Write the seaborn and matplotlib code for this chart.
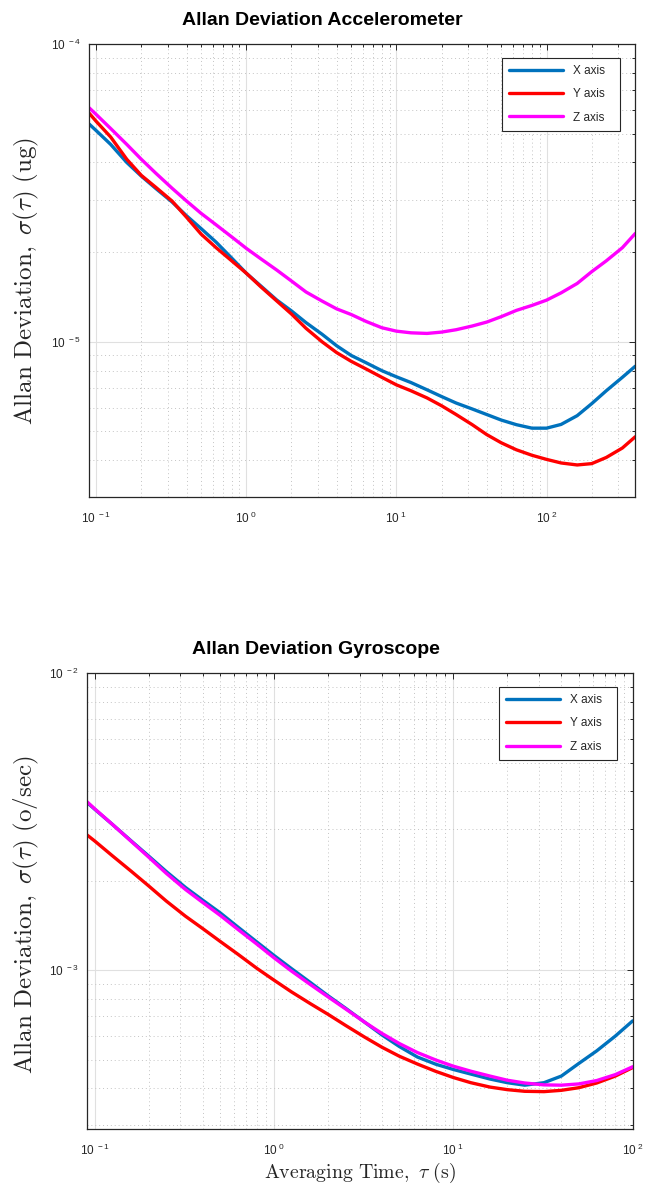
import numpy as np
import pandas as pd
import matplotlib
matplotlib.use("Agg")
import matplotlib.pyplot as plt
import seaborn as sns
from matplotlib.ticker import LogLocator, FuncFormatter, NullFormatter

# ---------------- data ----------------
axis_names = ["X axis", "Y axis", "Z axis"]
axis_colors = ["#0072BD", "#FF0000", "#FF00FF"]

tau_acc = [0.09, 0.1, 0.125, 0.16, 0.2, 0.25, 0.32, 0.4, 0.5, 0.63, 0.8,
           1, 1.25, 1.6, 2, 2.5, 3.2, 4, 5, 6.3, 8,
           10, 12.5, 16, 20, 25, 32, 40, 50, 63, 80,
           100, 125, 160, 200, 250, 320, 390]
# accelerometer values in units of 1e-5
acc_x = [5.38, 5.12, 4.6, 4.0, 3.6, 3.27, 2.95, 2.65, 2.4, 2.16, 1.91,
         1.70, 1.54, 1.38, 1.27, 1.16, 1.06, 0.97, 0.90, 0.85, 0.80,
         0.763, 0.73, 0.69, 0.655, 0.623, 0.595, 0.57, 0.546, 0.527, 0.513,
         0.513, 0.528, 0.565, 0.62, 0.685, 0.76, 0.828]
acc_y = [5.85, 5.5, 4.87, 4.1, 3.62, 3.3, 2.97, 2.62, 2.3, 2.07, 1.87,
         1.70, 1.53, 1.37, 1.24, 1.11, 1.0, 0.92, 0.86, 0.81, 0.76,
         0.717, 0.685, 0.648, 0.61, 0.57, 0.527, 0.488, 0.458, 0.434, 0.416,
         0.403, 0.392, 0.386, 0.39, 0.409, 0.44, 0.48]
acc_z = [6.1, 5.8, 5.2, 4.6, 4.1, 3.68, 3.28, 2.97, 2.7, 2.47, 2.25,
         2.06, 1.9, 1.74, 1.6, 1.47, 1.37, 1.29, 1.235, 1.17, 1.115,
         1.086, 1.072, 1.067, 1.078, 1.098, 1.13, 1.165, 1.215, 1.275, 1.325,
         1.38, 1.46, 1.57, 1.72, 1.87, 2.07, 2.31]
acc_scale = 1e-5

tau_gyro = [0.09, 0.1, 0.125, 0.16, 0.2, 0.25, 0.32, 0.4, 0.5, 0.63, 0.8,
            1, 1.25, 1.6, 2, 2.5, 3.2, 4, 5, 6.3, 8,
            10, 12.5, 16, 20, 25, 32, 40, 50, 63, 80, 100]
# gyroscope values in units of 1e-3
gyro_x = [3.68, 3.48, 3.10, 2.72, 2.42, 2.15, 1.9, 1.72, 1.56, 1.395, 1.245,
          1.12, 1.012, 0.907, 0.82, 0.745, 0.668, 0.605, 0.553, 0.51, 0.482,
          0.463, 0.447, 0.43, 0.418, 0.41, 0.418, 0.44, 0.485, 0.535, 0.6, 0.675]
gyro_y = [2.86, 2.72, 2.43, 2.15, 1.92, 1.71, 1.52, 1.38, 1.25, 1.13, 1.015,
          0.925, 0.845, 0.77, 0.71, 0.652, 0.595, 0.55, 0.513, 0.483, 0.456,
          0.435, 0.418, 0.404, 0.396, 0.391, 0.39, 0.394, 0.402, 0.417, 0.44, 0.47]
gyro_z = [3.7, 3.49, 3.1, 2.71, 2.4, 2.12, 1.87, 1.69, 1.53, 1.37, 1.225,
          1.1, 0.993, 0.893, 0.813, 0.741, 0.668, 0.612, 0.566, 0.528, 0.498,
          0.475, 0.457, 0.44, 0.426, 0.417, 0.411, 0.41, 0.414, 0.425, 0.445, 0.473]
gyro_scale = 1e-3

acc_title = "Allan Deviation Accelerometer"
gyro_title = "Allan Deviation Gyroscope"
acc_ylabel = r"$\mathrm{Allan\ Deviation,}\ \sigma(\tau)\ \mathrm{(ug)}$"
gyro_ylabel = r"$\mathrm{Allan\ Deviation,}\ \sigma(\tau)\ \mathrm{(o/sec)}$"
xlabel = r"$\mathrm{Averaging\ Time,}\ \tau\ \mathrm{(s)}$"

# ---------------- style ----------------
sns.set_style("white")
plt.rcParams['font.family'] = ['Liberation Sans', 'DejaVu Sans']
plt.rcParams['mathtext.fontset'] = 'cm'

fig = plt.figure(figsize=(6.45, 11.88), dpi=100)
ax1 = fig.add_axes([0.1384, 0.5819, 0.8465, 0.3811])
ax2 = fig.add_axes([0.1344, 0.0497, 0.8465, 0.3836])


def long_df(tau, series, scale):
    frames = []
    for name, vals in zip(axis_names, series):
        frames.append(pd.DataFrame({"tau": tau,
                                    "adev": np.asarray(vals) * scale,
                                    "axis": name}))
    return pd.concat(frames, ignore_index=True)


def fmt(v, pos):
    e = int(round(np.log10(v)))
    return r"$\mathregular{10^{\ %d}}$" % e


def style(ax, df, xlim, ylim, title, title_x, ylabel, ylab_xy, leg_box):
    sns.lineplot(data=df, x="tau", y="adev", hue="axis", hue_order=axis_names,
                 palette=axis_colors, linewidth=2.4, estimator=None, sort=False,
                 ax=ax)
    ax.set_xscale("log")
    ax.set_yscale("log")
    ax.set_xlim(*xlim)
    ax.set_ylim(*ylim)
    for a in (ax.xaxis, ax.yaxis):
        a.set_major_locator(LogLocator(base=10, numticks=20))
        a.set_minor_locator(LogLocator(base=10, subs=np.arange(2, 10), numticks=50))
        a.set_major_formatter(FuncFormatter(fmt))
        a.set_minor_formatter(NullFormatter())
    ax.grid(which="major", color="#e0e0e0", linestyle="-", linewidth=0.8)
    ax.grid(which="minor", color="#c4c4c4", linestyle=(0, (1, 3)), linewidth=0.7)
    ax.set_axisbelow(True)
    ax.tick_params(which="both", direction="in", top=True, right=True,
                   colors="#262626", labelsize=8.5, width=0.7)
    ax.tick_params(which="major", length=4)
    ax.tick_params(axis="x", which="major", pad=10)
    ax.tick_params(axis="y", which="major", pad=6)
    ax.tick_params(which="minor", length=2)
    for s in ax.spines.values():
        s.set_color("#262626")
        s.set_linewidth(0.9)
    ax.set_title(title, fontsize=14, fontweight="bold", pad=14, color="black",
                 x=title_x)
    ax.set_ylabel(ylabel, fontsize=18, color="#262626")
    ax.yaxis.set_label_coords(*ylab_xy)
    handles, labels = ax.get_legend_handles_labels()
    leg = ax.legend(handles, labels, loc="upper left", bbox_to_anchor=leg_box,
                    mode="expand", fontsize=8.5,
                    handlelength=4.6, handletextpad=0.8, labelspacing=0.95,
                    borderpad=0.6, borderaxespad=0, fancybox=False,
                    framealpha=1, edgecolor="#262626")
    leg.get_frame().set_linewidth(0.8)


style(ax1, long_df(tau_acc, [acc_x, acc_y, acc_z], acc_scale), (0.09, 390),
      (3.02e-6, 1e-4), acc_title, 0.426, acc_ylabel, (-0.088, 0.476),
      (0.756, 0.5, 0.216, 0.469))
ax1.set_xlabel("")
style(ax2, long_df(tau_gyro, [gyro_x, gyro_y, gyro_z], gyro_scale), (0.09, 100),
      (2.92e-4, 1e-2), gyro_title, 0.42, gyro_ylabel, (-0.083, 0.47),
      (0.755, 0.5, 0.216, 0.4695))
ax2.set_xlabel(xlabel, fontsize=14.3, labelpad=2, color="#262626")

fig.savefig("out.png", dpi=100)
